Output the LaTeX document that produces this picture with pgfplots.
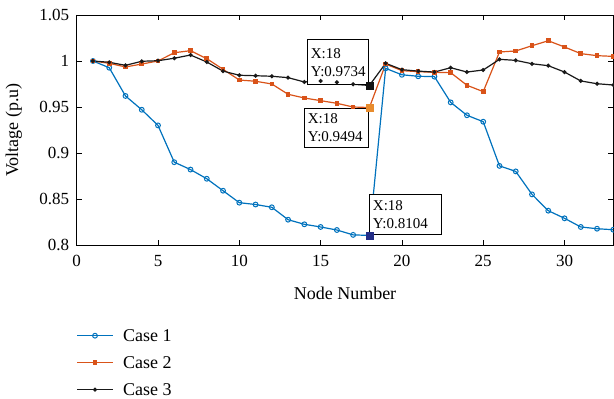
\documentclass[border=0pt]{standalone}
\usepackage{fontspec}
\setmainfont{Liberation Serif}
\usepackage{pgfplots}
\usepackage{pgfplotstable}
\pgfplotsset{compat=1.18}

\definecolor{c1}{RGB}{0,114,189}
\definecolor{c2}{RGB}{217,83,25}
\definecolor{c3}{RGB}{25,25,25}
\definecolor{tip1}{RGB}{35,45,135}
\definecolor{tip2}{RGB}{232,140,45}
\definecolor{tip3}{RGB}{20,20,20}

% bus voltages (p.u.) for the three cases
\pgfplotstableread{
node v1     v2     v3
1    1.0000 1.0000 1.0000
2    0.9927 0.9975 0.9986
3    0.9620 0.9935 0.9953
4    0.9470 0.9967 0.9997
5    0.9300 1.0000 1.0003
6    0.8900 1.0090 1.0030
7    0.8820 1.0112 1.0065
8    0.8720 1.0025 0.9989
9    0.8590 0.9910 0.9890
10   0.8460 0.9793 0.9845
11   0.8440 0.9780 0.9840
12   0.8410 0.9750 0.9834
13   0.8275 0.9638 0.9819
14   0.8225 0.9598 0.9772
15   0.8196 0.9569 0.9783
16   0.8163 0.9540 0.9768
17   0.8110 0.9500 0.9747
18   0.8104 0.9494 0.9734
19   0.9920 0.9967 0.9975
20   0.9850 0.9895 0.9906
21   0.9834 0.9884 0.9890
22   0.9830 0.9877 0.9880
23   0.9550 0.9873 0.9927
24   0.9410 0.9736 0.9880
25   0.9340 0.9667 0.9902
26   0.8860 1.0098 1.0018
27   0.8800 1.0109 1.0007
28   0.8550 1.0166 0.9970
29   0.8373 1.0220 0.9949
30   0.8290 1.0152 0.9880
31   0.8196 1.0080 0.9783
32   0.8177 1.0058 0.9753
33   0.8166 1.0050 0.9739
}\voltages

\tikzset{tipbox/.style={draw=black, line width=1.1pt, fill=white, align=left,
  inner xsep=3pt, inner ysep=1pt, font=\fontsize{15}{17.7}\selectfont}}

\begin{document}
\begin{tikzpicture}
\begin{axis}[
  scale only axis, width=536.6pt, height=230pt,
  xmin=0, xmax=33, ymin=0.8, ymax=1.05,
  xtick={0,5,10,15,20,25,30},
  ytick={0.8,0.85,0.9,0.95,1,1.05},
  yticklabels={0.8,0.85,0.9,0.95,1,1.05},
  tick align=inside, major tick length=5.5pt,
  tick style={black, line width=0.8pt},
  axis line style={line width=0.9pt},
  /pgf/number format/assume math mode=true,
  tick label style={font=\fontsize{17}{20}\selectfont},
  xticklabel style={yshift=-7pt},
  yticklabel style={xshift=-4pt},
  label style={font=\fontsize{18}{21}\selectfont},
  xlabel={Node Number},
  ylabel={Voltage (p.u)},
  xlabel style={at={(rel axis cs:0.5,0)}, anchor=center, yshift=-48pt},
  ylabel style={at={(rel axis cs:0,0.5)}, anchor=center, yshift=63pt},
  legend style={at={(rel axis cs:0,0)}, anchor=north west, yshift=-83pt,
    draw=none, fill=none, inner sep=0pt, row sep=12pt,
    font=\fontsize{18}{21}\selectfont,
    nodes={inner sep=0pt, text height=13pt, text depth=2pt},
    /tikz/every odd column/.append style={column sep=10pt}},
  legend cell align=left,
  legend image code/.code={
    \draw[mark repeat=2, mark phase=2, #1]
      plot coordinates {(0pt,0pt) (17.5pt,0pt) (35pt,0pt)};},
]
\coordinate (bl) at (rel axis cs:0,0);
\coordinate (tr) at (rel axis cs:1,1);

\addplot[c1, line width=1.2pt, mark=o, mark size=2.4pt,
  mark options={solid, line width=1pt}] table[x=node, y=v1] {\voltages};
\addlegendentry{Case 1}
\addplot[c2, line width=1.2pt, mark=square*, mark size=1.7pt,
  mark options={solid}] table[x=node, y=v2] {\voltages};
\addlegendentry{Case 2}
\addplot[c3, line width=1.2pt, mark=*, mark size=1.4pt,
  mark options={solid}] table[x=node, y=v3] {\voltages};
\addlegendentry{Case 3}

% data tips at node 18
\node[tipbox, anchor=south east, text width=55pt, minimum height=45pt]
  at (axis cs:18,0.9734) {X:18\\Y:0.9734};
\node[tipbox, anchor=north east, text width=58pt, minimum height=39pt]
  at (axis cs:18,0.9494) {X:18\\Y:0.9494};
\node[tipbox, anchor=south west, text width=66pt, minimum height=40pt]
  at (axis cs:18,0.8104) {X:18\\Y:0.8104};

\addplot[forget plot, only marks, mark=square*, mark size=3.5pt, tip3]
  coordinates {(18,0.9734)};
\addplot[forget plot, only marks, mark=square*, mark size=3.5pt, tip2]
  coordinates {(18,0.9494)};
\addplot[forget plot, only marks, mark=square*, mark size=3.5pt, tip1]
  coordinates {(18,0.8104)};
\end{axis}
\pgfresetboundingbox
\path[use as bounding box] ([xshift=-76.7pt, yshift=-153pt]bl)
  rectangle ([xshift=0.7pt, yshift=15pt]tr);
\end{tikzpicture}
\end{document}
